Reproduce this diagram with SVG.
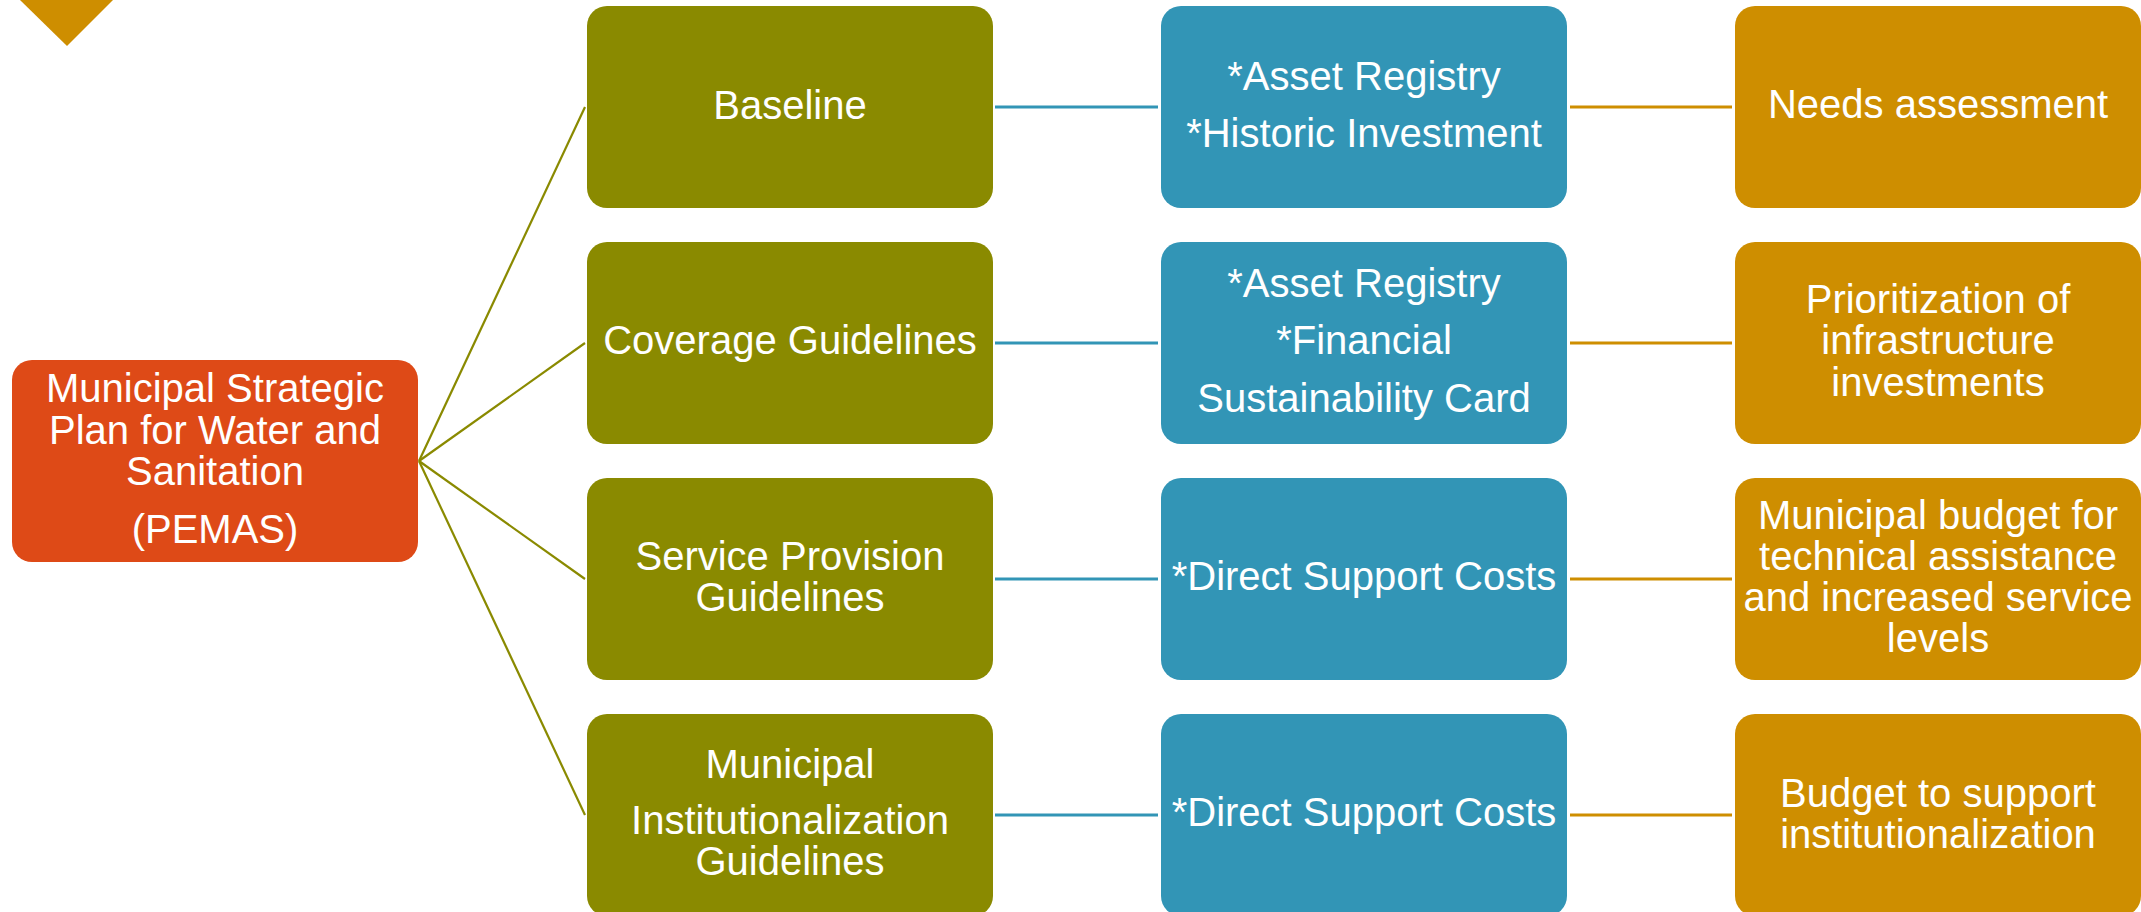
<svg xmlns="http://www.w3.org/2000/svg" width="2141" height="912" viewBox="0 0 2141 912">
<style>
.t{font-family:"Liberation Sans",Arial,sans-serif;font-size:40px;fill:#ffffff;text-anchor:middle}
.red{fill:#DE4A17}
.grn{fill:#8A8A00}
.blu{fill:#3295B6}
.org{fill:#CE8E00}
.cg{stroke:#8A8A00;stroke-width:2.2;fill:none}
.cb{stroke:#3295B6;stroke-width:3;fill:none}
.co{stroke:#CE8E00;stroke-width:3;fill:none}
</style>
<rect width="2141" height="912" fill="#ffffff"/>
<polygon points="20,0 113,0 67,46" fill="#CE8E00"/>
<g id="connectors">
<line class="cg" x1="419" y1="461" x2="585" y2="107"/>
<line class="cg" x1="419" y1="461" x2="585" y2="343"/>
<line class="cg" x1="419" y1="461" x2="585" y2="579"/>
<line class="cg" x1="419" y1="461" x2="585" y2="815"/>
<line class="cb" x1="995" y1="107" x2="1158" y2="107"/>
<line class="cb" x1="995" y1="343" x2="1158" y2="343"/>
<line class="cb" x1="995" y1="579" x2="1158" y2="579"/>
<line class="cb" x1="995" y1="815" x2="1158" y2="815"/>
<line class="co" x1="1570" y1="107" x2="1732" y2="107"/>
<line class="co" x1="1570" y1="343" x2="1732" y2="343"/>
<line class="co" x1="1570" y1="579" x2="1732" y2="579"/>
<line class="co" x1="1570" y1="815" x2="1732" y2="815"/>
</g>
<g id="pemas">
<rect class="red" x="12" y="360" width="406" height="202" rx="20"/>
<text class="t" x="215" y="402">Municipal Strategic</text>
<text class="t" x="215" y="444">Plan for Water and</text>
<text class="t" x="215" y="485">Sanitation</text>
<text class="t" x="215" y="543">(PEMAS)</text>
</g>
<g id="baseline">
<rect class="grn" x="587" y="6" width="406" height="202" rx="20"/>
<text class="t" x="790" y="119">Baseline</text>
</g>
<g id="coverage">
<rect class="grn" x="587" y="242" width="406" height="202" rx="20"/>
<text class="t" x="790" y="354">Coverage Guidelines</text>
</g>
<g id="service">
<rect class="grn" x="587" y="478" width="406" height="202" rx="20"/>
<text class="t" x="790" y="570">Service Provision</text>
<text class="t" x="790" y="611">Guidelines</text>
</g>
<g id="institutional">
<rect class="grn" x="587" y="714" width="406" height="202" rx="20"/>
<text class="t" x="790" y="778">Municipal</text>
<text class="t" x="790" y="834">Institutionalization</text>
<text class="t" x="790" y="875">Guidelines</text>
</g>
<g id="tool1">
<rect class="blu" x="1161" y="6" width="406" height="202" rx="20"/>
<text class="t" x="1364" y="90">*Asset Registry</text>
<text class="t" x="1364" y="147">*Historic Investment</text>
</g>
<g id="tool2">
<rect class="blu" x="1161" y="242" width="406" height="202" rx="20"/>
<text class="t" x="1364" y="297">*Asset Registry</text>
<text class="t" x="1364" y="354">*Financial</text>
<text class="t" x="1364" y="412">Sustainability Card</text>
</g>
<g id="tool3">
<rect class="blu" x="1161" y="478" width="406" height="202" rx="20"/>
<text class="t" x="1364" y="590">*Direct Support Costs</text>
</g>
<g id="tool4">
<rect class="blu" x="1161" y="714" width="406" height="202" rx="20"/>
<text class="t" x="1364" y="826">*Direct Support Costs</text>
</g>
<g id="out1">
<rect class="org" x="1735" y="6" width="406" height="202" rx="20"/>
<text class="t" x="1938" y="118">Needs assessment</text>
</g>
<g id="out2">
<rect class="org" x="1735" y="242" width="406" height="202" rx="20"/>
<text class="t" x="1938" y="313">Prioritization of</text>
<text class="t" x="1938" y="354">infrastructure</text>
<text class="t" x="1938" y="396">investments</text>
</g>
<g id="out3">
<rect class="org" x="1735" y="478" width="406" height="202" rx="20"/>
<text class="t" x="1938" y="529">Municipal budget for</text>
<text class="t" x="1938" y="570">technical assistance</text>
<text class="t" x="1938" y="611">and increased service</text>
<text class="t" x="1938" y="652">levels</text>
</g>
<g id="out4">
<rect class="org" x="1735" y="714" width="406" height="202" rx="20"/>
<text class="t" x="1938" y="807">Budget to support</text>
<text class="t" x="1938" y="848">institutionalization</text>
</g>
</svg>
